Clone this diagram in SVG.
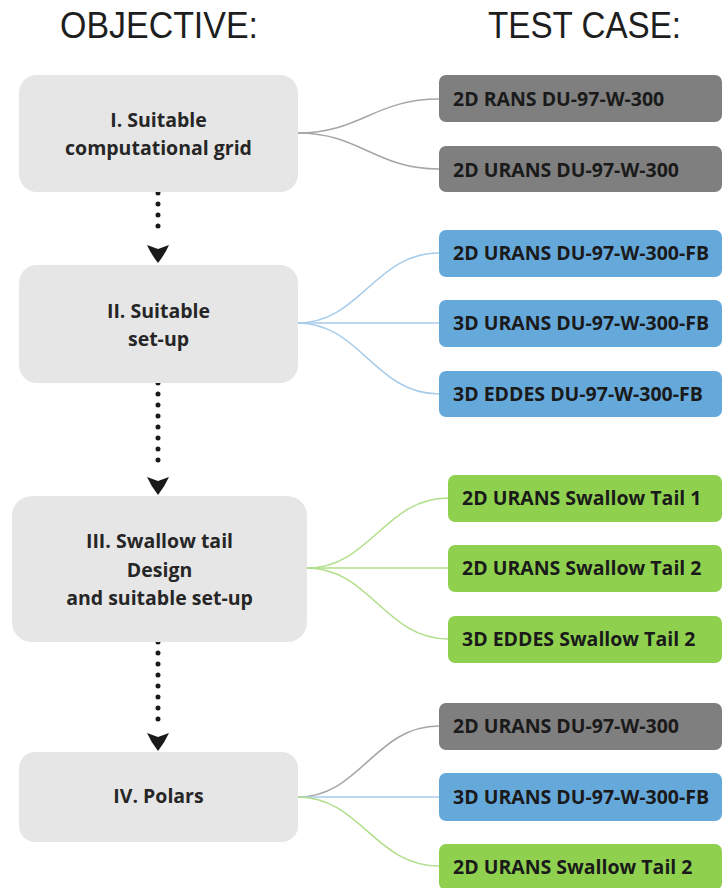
<svg xmlns="http://www.w3.org/2000/svg" width="723" height="888" viewBox="0 0 723 888">
<style>
.hdr{font-family:"Liberation Sans",Arial,sans-serif;font-size:36px;fill:#1e1e1e}
.obj rect{fill:#e6e6e6}
.obj text{font-family:"Open Sans","Noto Sans",sans-serif;font-weight:bold;font-size:19.5px;fill:#262626;text-anchor:middle}
.tc text{font-family:"Open Sans","Noto Sans",sans-serif;font-weight:bold;font-size:19.5px;fill:#1a1a1a}
.gray{fill:#7f7f7f}.blue{fill:#65a8da}.green{fill:#8fd14f}
.dots{stroke:#1a1a1a;stroke-width:5;stroke-linecap:round;stroke-dasharray:0 11;fill:none}
.head{fill:#1a1a1a}
.cg{stroke:#a6a6a6;stroke-width:1.5;fill:none}
.cb{stroke:#a8cdea;stroke-width:1.5;fill:none}
.cgr{stroke:#b0df8a;stroke-width:1.5;fill:none}
</style>
<defs>
<path id="ah" d="M-11,0 L0,4 L11,0 Q7,9 0,18 Q-7,9 -11,0 Z"/>
</defs>
<text class="hdr" x="60" y="38" textLength="198" lengthAdjust="spacingAndGlyphs">OBJECTIVE:</text>
<text class="hdr" x="488" y="38" textLength="193" lengthAdjust="spacingAndGlyphs">TEST CASE:</text>

<g id="connectors">
<path class="cg" d="M298,133 C360,133 375,99 439,99"/>
<path class="cg" d="M298,133 C360,133 375,169 439,169"/>
<path class="cb" d="M298,323 C360,323 375,253 439,253"/>
<path class="cb" d="M298,323 L439,323"/>
<path class="cb" d="M298,323 C360,323 375,394 439,394"/>
<path class="cgr" d="M307,568 C370,568 385,498 448,498"/>
<path class="cgr" d="M307,568 L448,568"/>
<path class="cgr" d="M307,568 C370,568 385,639 448,639"/>
<path class="cg" d="M298,797 C360,797 375,726 439,726"/>
<path class="cb" d="M298,797 L439,797"/>
<path class="cgr" d="M298,797 C360,797 375,866 439,866"/>
<line class="dots" x1="158" y1="193" x2="158" y2="237"/>
<use href="#ah" x="158" y="245" class="head"/>
<line class="dots" x1="158" y1="383" x2="158" y2="470"/>
<use href="#ah" x="158" y="477" class="head"/>
<line class="dots" x1="158" y1="642" x2="158" y2="728"/>
<use href="#ah" x="158" y="733" class="head"/>
</g>

<g id="obj1" class="obj"><rect x="19" y="75" width="279" height="117" rx="18"/><text x="158.5" y="127">I. Suitable</text><text x="158.5" y="155">computational grid</text></g>
<g id="obj2" class="obj"><rect x="19" y="265" width="279" height="118" rx="18"/><text x="158.5" y="318">II. Suitable</text><text x="158.5" y="346">set-up</text></g>
<g id="obj3" class="obj"><rect x="12" y="496" width="295" height="146" rx="20"/><text x="159.5" y="548">III. Swallow tail</text><text x="159.5" y="577">Design</text><text x="159.5" y="605">and suitable set-up</text></g>
<g id="obj4" class="obj"><rect x="19" y="752" width="279" height="90" rx="16"/><text x="158.5" y="803">IV. Polars</text></g>

<g id="tc1" class="tc"><rect class="gray" x="439" y="75" width="283" height="47" rx="7"/><text x="453" y="106">2D RANS DU-97-W-300</text></g>
<g id="tc2" class="tc"><rect class="gray" x="439" y="146" width="283" height="46" rx="7"/><text x="453" y="177">2D URANS DU-97-W-300</text></g>
<g id="tc3" class="tc"><rect class="blue" x="439" y="230" width="283" height="47" rx="7"/><text x="453" y="260">2D URANS DU-97-W-300-FB</text></g>
<g id="tc4" class="tc"><rect class="blue" x="439" y="300" width="283" height="47" rx="7"/><text x="453" y="330">3D URANS DU-97-W-300-FB</text></g>
<g id="tc5" class="tc"><rect class="blue" x="439" y="371" width="283" height="46" rx="7"/><text x="453" y="401">3D EDDES DU-97-W-300-FB</text></g>
<g id="tc6" class="tc"><rect class="green" x="448" y="475" width="274" height="47" rx="7"/><text x="462" y="505">2D URANS Swallow Tail 1</text></g>
<g id="tc7" class="tc"><rect class="green" x="448" y="545" width="274" height="47" rx="7"/><text x="462" y="575">2D URANS Swallow Tail 2</text></g>
<g id="tc8" class="tc"><rect class="green" x="448" y="616" width="274" height="47" rx="7"/><text x="462" y="646">3D EDDES Swallow Tail 2</text></g>
<g id="tc9" class="tc"><rect class="gray" x="439" y="703" width="283" height="47" rx="7"/><text x="453" y="733">2D URANS DU-97-W-300</text></g>
<g id="tc10" class="tc"><rect class="blue" x="439" y="773" width="283" height="48" rx="7"/><text x="453" y="804">3D URANS DU-97-W-300-FB</text></g>
<g id="tc11" class="tc"><rect class="green" x="439" y="844" width="283" height="46" rx="7"/><text x="453" y="874">2D URANS Swallow Tail 2</text></g>
</svg>
